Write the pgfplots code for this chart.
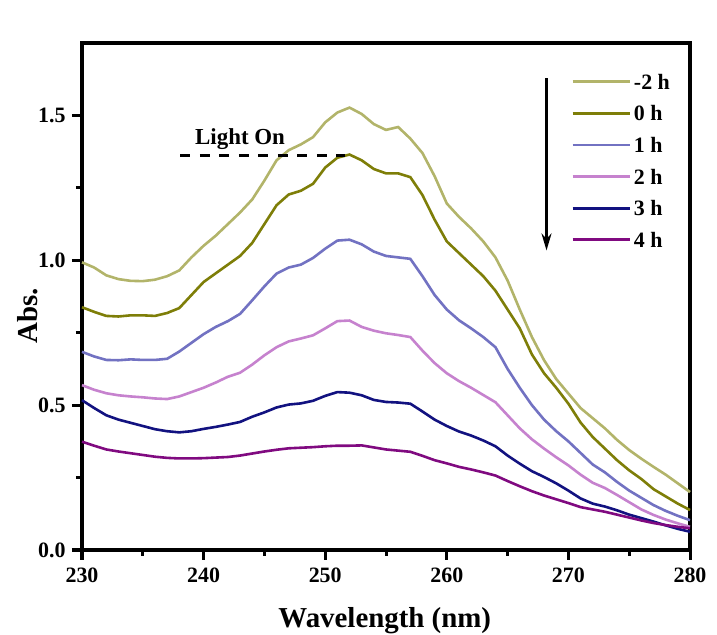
\documentclass[border=0pt]{standalone}
\usepackage{fontspec}
\setmainfont{Liberation Serif}
\usepackage{pgfplots}
\pgfplotsset{compat=1.18}
\usetikzlibrary{arrows.meta,calc}

\definecolor{cm2}{RGB}{178,180,106}
\definecolor{c0}{RGB}{126,126,8}
\definecolor{c1}{RGB}{114,114,194}
\definecolor{c2}{RGB}{198,130,206}
\definecolor{c3}{RGB}{18,18,128}
\definecolor{c4}{RGB}{128,10,128}

\pgfplotsset{
  every tick/.style={black, line width=3bp},
  legend image code/.code={\draw[#1, line width=2.8bp] (0bp,0bp) -- (57bp,0bp);},
}

\begin{document}
\begin{tikzpicture}
\begin{axis}[
    scale only axis,
    width=608bp, height=507bp,
    xmin=230, xmax=280, ymin=0, ymax=1.75,
    clip=false,
    separate axis lines,
    axis line style={black, line width=3.3bp, line cap=rect},
    xtick={230,240,...,280},
    ytick={0,0.5,1,1.5},
    minor xtick={235,245,...,275},
    minor ytick={0.25,0.75,1.25},
    tick align=outside,
    xtick pos=bottom, ytick pos=left,
    major tick length=10bp, minor tick length=6bp,
    xtick style={black, line width=3bp},
    ytick style={black, line width=3bp},
    /pgf/number format/assume math mode=true,
    yticklabel style={xshift=-3bp, /pgf/number format/fixed, /pgf/number format/fixed zerofill, /pgf/number format/precision=1},
    xticklabel style={yshift=-4bp},
    tick label style={font=\bfseries\fontsize{22}{22}\selectfont},
    xlabel={Wavelength (nm)},
    ylabel={Abs.},
    label style={font=\bfseries\fontsize{29}{29}\selectfont},
    xlabel style={at={(axis description cs:0.498,-0.1538)}, anchor=base},
    ylabel style={at={(axis description cs:-0.0724,0.4625)}, anchor=base},
    legend cell align=left,
    legend style={draw=none, fill=none, at={(axis description cs:0.7993,0.9467)}, anchor=north west,
      font=\bfseries\fontsize{22}{22}\selectfont,
      nodes={inner sep=2bp, text height=15bp, text depth=0bp},
      row sep=12.6bp, column sep=1bp},
  ]
  \coordinate (bl) at (rel axis cs:0,0);
  \coordinate (tr) at (rel axis cs:1,1);

  \addplot[cm2, line width=2.6bp] coordinates {
    (230,0.993)(231,0.975)(232,0.948)(233,0.935)(234,0.929)(235,0.928)(236,0.933)(237,0.945)(238,0.965)(239,1.010)
    (240,1.050)(241,1.085)(242,1.125)(243,1.165)(244,1.210)(245,1.275)(246,1.345)(247,1.380)(248,1.400)(249,1.425)
    (250,1.476)(251,1.510)(252,1.527)(253,1.505)(254,1.470)(255,1.450)(256,1.460)(257,1.420)(258,1.370)(259,1.290)
    (260,1.196)(261,1.150)(262,1.110)(263,1.065)(264,1.010)(265,0.930)(266,0.830)(267,0.735)(268,0.655)(269,0.590)
    (270,0.540)(271,0.490)(272,0.455)(273,0.420)(274,0.380)(275,0.345)(276,0.315)(277,0.287)(278,0.260)(279,0.230)
    (280,0.200)
  };
  \addlegendentry{-2 h}
  \addplot[c0, line width=2.6bp] coordinates {
    (230,0.838)(231,0.822)(232,0.808)(233,0.806)(234,0.810)(235,0.810)(236,0.808)(237,0.818)(238,0.835)(239,0.880)
    (240,0.925)(241,0.955)(242,0.985)(243,1.015)(244,1.060)(245,1.125)(246,1.190)(247,1.227)(248,1.240)(249,1.264)
    (250,1.320)(251,1.354)(252,1.365)(253,1.345)(254,1.315)(255,1.300)(256,1.300)(257,1.287)(258,1.225)(259,1.140)
    (260,1.065)(261,1.025)(262,0.985)(263,0.945)(264,0.895)(265,0.830)(266,0.765)(267,0.675)(268,0.610)(269,0.560)
    (270,0.505)(271,0.440)(272,0.390)(273,0.350)(274,0.310)(275,0.275)(276,0.245)(277,0.210)(278,0.185)(279,0.160)
    (280,0.138)
  };
  \addlegendentry{0 h}
  \addplot[c1, line width=2.6bp] coordinates {
    (230,0.684)(231,0.668)(232,0.656)(233,0.655)(234,0.658)(235,0.656)(236,0.656)(237,0.660)(238,0.685)(239,0.715)
    (240,0.745)(241,0.770)(242,0.790)(243,0.815)(244,0.862)(245,0.910)(246,0.954)(247,0.975)(248,0.985)(249,1.008)
    (250,1.040)(251,1.068)(252,1.071)(253,1.055)(254,1.030)(255,1.015)(256,1.010)(257,1.005)(258,0.945)(259,0.880)
    (260,0.830)(261,0.793)(262,0.765)(263,0.735)(264,0.700)(265,0.625)(266,0.560)(267,0.500)(268,0.450)(269,0.410)
    (270,0.375)(271,0.335)(272,0.295)(273,0.268)(274,0.235)(275,0.205)(276,0.180)(277,0.155)(278,0.135)(279,0.118)
    (280,0.103)
  };
  \addlegendentry{1 h}
  \addplot[c2, line width=2.6bp] coordinates {
    (230,0.569)(231,0.553)(232,0.541)(233,0.534)(234,0.530)(235,0.527)(236,0.523)(237,0.521)(238,0.530)(239,0.545)
    (240,0.560)(241,0.578)(242,0.598)(243,0.612)(244,0.640)(245,0.672)(246,0.700)(247,0.720)(248,0.730)(249,0.741)
    (250,0.765)(251,0.790)(252,0.792)(253,0.770)(254,0.757)(255,0.748)(256,0.742)(257,0.735)(258,0.688)(259,0.645)
    (260,0.610)(261,0.583)(262,0.560)(263,0.535)(264,0.510)(265,0.465)(266,0.420)(267,0.382)(268,0.350)(269,0.320)
    (270,0.292)(271,0.260)(272,0.232)(273,0.214)(274,0.190)(275,0.165)(276,0.140)(277,0.121)(278,0.105)(279,0.092)
    (280,0.080)
  };
  \addlegendentry{2 h}
  \addplot[c3, line width=2.6bp] coordinates {
    (230,0.517)(231,0.490)(232,0.465)(233,0.450)(234,0.439)(235,0.428)(236,0.417)(237,0.410)(238,0.406)(239,0.410)
    (240,0.418)(241,0.425)(242,0.433)(243,0.442)(244,0.460)(245,0.475)(246,0.492)(247,0.502)(248,0.506)(249,0.515)
    (250,0.532)(251,0.545)(252,0.543)(253,0.534)(254,0.518)(255,0.511)(256,0.509)(257,0.505)(258,0.478)(259,0.450)
    (260,0.428)(261,0.409)(262,0.395)(263,0.378)(264,0.358)(265,0.326)(266,0.298)(267,0.272)(268,0.252)(269,0.230)
    (270,0.205)(271,0.178)(272,0.160)(273,0.150)(274,0.137)(275,0.122)(276,0.110)(277,0.098)(278,0.085)(279,0.073)
    (280,0.063)
  };
  \addlegendentry{3 h}
  \addplot[c4, line width=2.6bp] coordinates {
    (230,0.374)(231,0.360)(232,0.347)(233,0.340)(234,0.334)(235,0.328)(236,0.322)(237,0.318)(238,0.316)(239,0.316)
    (240,0.317)(241,0.319)(242,0.321)(243,0.326)(244,0.333)(245,0.340)(246,0.346)(247,0.351)(248,0.353)(249,0.355)
    (250,0.358)(251,0.360)(252,0.360)(253,0.361)(254,0.354)(255,0.347)(256,0.343)(257,0.339)(258,0.325)(259,0.310)
    (260,0.299)(261,0.287)(262,0.278)(263,0.268)(264,0.257)(265,0.238)(266,0.220)(267,0.203)(268,0.188)(269,0.175)
    (270,0.162)(271,0.148)(272,0.140)(273,0.132)(274,0.122)(275,0.112)(276,0.102)(277,0.093)(278,0.086)(279,0.080)
    (280,0.075)
  };
  \addlegendentry{4 h}

  % tick stubs, both ends in axis units (10 px = 0.0345 in y, 0.822 in x)
  \pgfplotsinvokeforeach{230,240,250,260,270,280}{
    \draw[black, line width=3bp] (axis cs:#1,0) -- (axis cs:#1,-0.0345);
  }
  \pgfplotsinvokeforeach{235,245,255,265,275}{
    \draw[black, line width=3bp] (axis cs:#1,0) -- (axis cs:#1,-0.0207);
  }
  \pgfplotsinvokeforeach{0.5,1,1.5}{
    \draw[black, line width=3bp] (axis cs:230,#1) -- (axis cs:229.178,#1);
  }
  \pgfplotsinvokeforeach{0.25,0.75,1.25}{
    \draw[black, line width=3bp] (axis cs:230,#1) -- (axis cs:229.507,#1);
  }

  % annotations
  \draw[black, line width=2.6bp, dash pattern=on 10bp off 9.5bp] (axis cs:238.1,1.362) -- (axis cs:251.6,1.362);
  \node[font=\bfseries\fontsize{23}{23}\selectfont, anchor=base, inner sep=0pt] at (axis cs:243.0,1.40) {Light On};
  \draw[black, line width=2.4bp, -{Stealth[length=17bp,width=10bp]}] (axis cs:268.2,1.628) -- (axis cs:268.2,1.034);
\end{axis}
\pgfresetboundingbox
\path ($(bl)+(-82bp,-85bp)$) rectangle ($(tr)+(27bp,43bp)$);
\end{tikzpicture}
\end{document}
